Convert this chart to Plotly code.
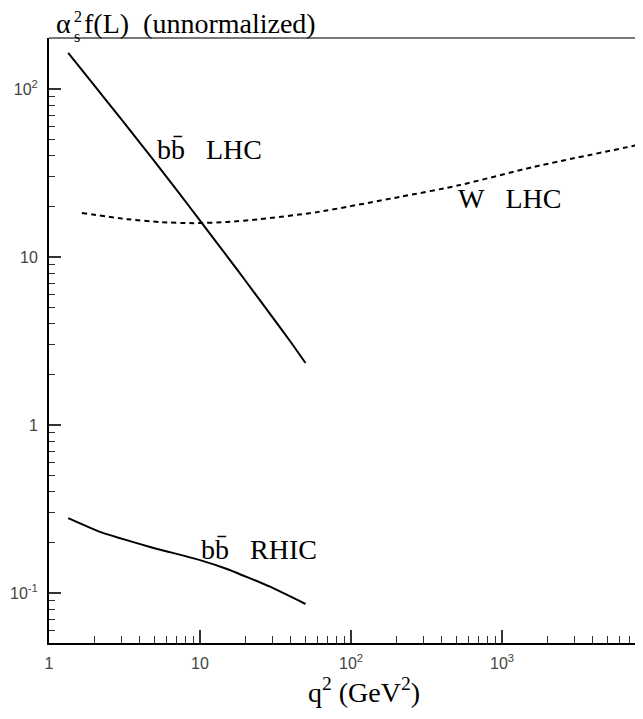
import plotly.graph_objects as go

# ---- data ----
bb_lhc_q2 = [1.34, 2.0, 3.0, 5.0, 7.0, 10.3, 15.0, 20.0, 30.0, 40.0, 50.0]
bb_lhc_f = [164, 104.6, 66.5, 37.1, 25.1, 15.9, 10.2, 7.22, 4.42, 3.11, 2.34]

w_lhc_q2 = [1.65, 3.29, 5.43, 9.0, 15.1, 25, 59.5, 211, 527, 1603, 8590]
w_lhc_f = [18.3, 16.8, 16.15, 15.9, 16.15, 16.8, 18.5, 22.8, 26.8, 34.3, 47.1]

bb_rhic_q2 = [1.34, 2.18, 4.67, 10.0, 15.1, 29.1, 50.0]
bb_rhic_f = [0.279, 0.231, 0.188, 0.157, 0.139, 0.109, 0.086]

x_tickvals = [1, 10, 100, 1000]
x_ticktext = ["1", "10", "10<sup>2</sup>", "10<sup>3</sup>"]
y_tickvals = [0.1, 1, 10, 100]
y_ticktext = ["10<sup>-1</sup>", "1", "10", "10<sup>2</sup>"]

x_minor = [m * 10 ** k for k in range(0, 4) for m in range(2, 10)]
y_minor = [m * 10 ** k for k in range(-2, 3) for m in range(2, 10)]

# ---- layout geometry (page pixels; page has an 8px body margin) ----
OFF = 8
PW, PH = 643, 719
L, T, RP, BP = 49, 38, 643, 643
DECX, DECY = 151.0, 168.0
xr = [0, (RP - L) / DECX]
ytop = 2 + (89 - T) / DECY
yr = [ytop - (BP - T) / DECY, ytop]
W, H = PW - OFF, PH - OFF


def px_x(px):
    return (px - L) / (RP - L)


def px_y(py):
    return (BP - py) / (BP - T)


SERIF = "Liberation Serif, Times New Roman, serif"
SANS = "Liberation Sans, Arial, sans-serif"
NB = "\u00a0"
FS = 28

fig = go.Figure()
fig.add_trace(go.Scatter(x=bb_lhc_q2, y=bb_lhc_f, mode="lines",
                         line=dict(color="black", width=2, shape="spline", smoothing=0.3),
                         showlegend=False, hoverinfo="skip"))
fig.add_trace(go.Scatter(x=w_lhc_q2, y=w_lhc_f, mode="lines",
                         line=dict(color="black", width=2, dash="5px,4px", shape="spline", smoothing=0.6),
                         showlegend=False, hoverinfo="skip"))
fig.add_trace(go.Scatter(x=bb_rhic_q2, y=bb_rhic_f, mode="lines",
                         line=dict(color="black", width=2, shape="spline", smoothing=0.4),
                         showlegend=False, hoverinfo="skip"))

ann = []


def add_text(text, px, py, size=FS, font=SERIF, xanchor="left"):
    ann.append(dict(text=text, xref="paper", yref="paper", x=px_x(px), y=px_y(py),
                    xanchor=xanchor, yanchor="middle", showarrow=False,
                    font=dict(family=font, size=size, color="black")))


bbar = "b" + "b\u0304"
add_text(bbar + NB * 3 + "LHC", 155, 150)
add_text("W" + NB * 3 + "LHC", 456, 199)
add_text(bbar + NB * 3 + "RHIC", 199, 549)

# title  alpha_s^2 f(L)  (unnormalized)
add_text("\u03b1", 54, 23)
add_text("2", 72, 17, size=16)
add_text("s", 72, 36, size=16)
add_text("f(L)" + NB * 2 + "(unnormalized)", 82, 23)

# x-axis title
ann.append(dict(text="q<sup>2</sup> (GeV<sup>2</sup>)", xref="paper", yref="paper",
                x=px_x(364), y=px_y(690), xanchor="center", yanchor="middle",
                showarrow=False, font=dict(family=SERIF, size=FS, color="black")))

fig.update_layout(
    width=W, height=H,
    margin=dict(l=L - OFF, r=PW - RP, t=T - OFF, b=PH - BP, pad=0),
    paper_bgcolor="white", plot_bgcolor="white",
    annotations=ann,
    shapes=[dict(type="line", xref="paper", yref="paper", x0=0, x1=1, y0=1, y1=1,
                 line=dict(color="#777777", width=2))],
    xaxis=dict(type="log", range=xr, showgrid=False, zeroline=False,
               showline=True, linecolor="black", linewidth=2, mirror=False,
               ticks="inside", ticklen=13, tickwidth=1.5, tickcolor="#333",
               tickvals=x_tickvals, ticktext=x_ticktext,
               tickfont=dict(family=SANS, size=16, color="#444"),
               ticklabelstandoff=5,
               minor=dict(ticks="inside", ticklen=7, tickwidth=1.2, tickcolor="#333",
                          tickvals=x_minor, showgrid=False)),
    yaxis=dict(type="log", range=yr, showgrid=False, zeroline=False,
               showline=True, linecolor="black", linewidth=2, mirror=False,
               ticks="inside", ticklen=12, tickwidth=1.5, tickcolor="#333",
               tickvals=y_tickvals, ticktext=y_ticktext,
               tickfont=dict(family=SANS, size=16, color="#444"),
               ticklabelstandoff=6,
               minor=dict(ticks="inside", ticklen=6, tickwidth=1.2, tickcolor="#333",
                          tickvals=y_minor, showgrid=False)),
)

fig.write_html("out.html")
